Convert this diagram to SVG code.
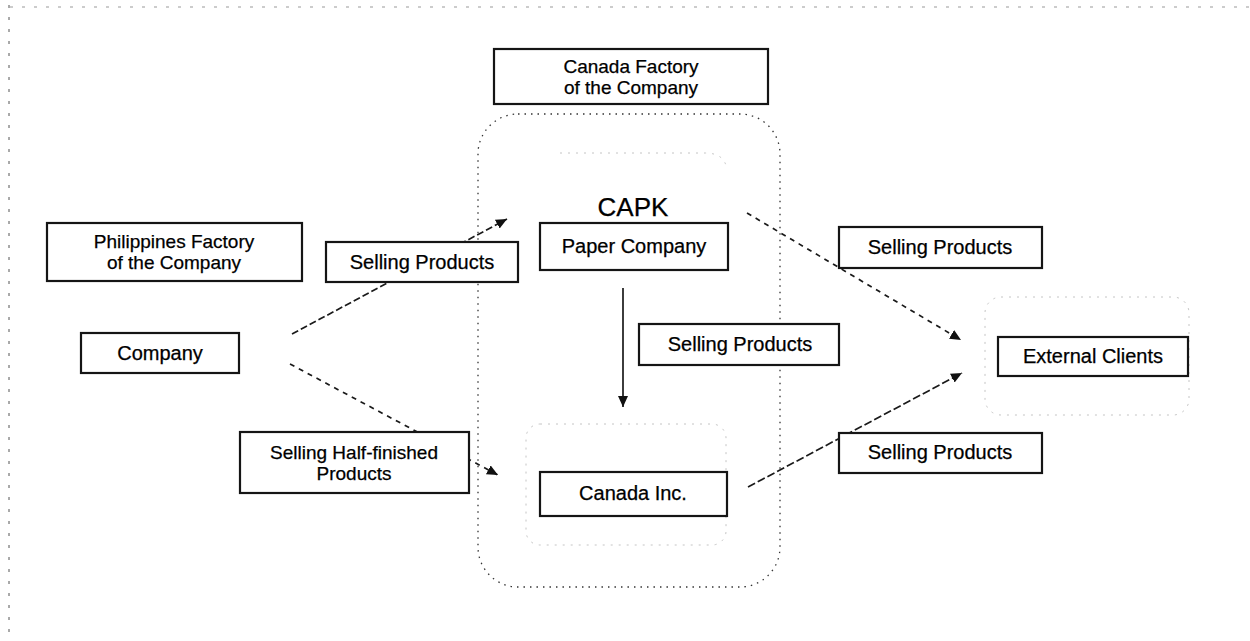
<svg xmlns="http://www.w3.org/2000/svg" width="1250" height="641" viewBox="0 0 1250 641">
<style>
.box{fill:#fff;stroke:#151515;stroke-width:2.2}
.t{font-family:"Liberation Sans",Arial,sans-serif;font-size:20px;fill:#000;text-anchor:middle;stroke:#000;stroke-width:0.25}
.t2{font-size:19px}
.big{font-size:26px}
.c{fill:none;stroke:#1a1a1a;stroke-width:1.7}
.faint{fill:none;stroke:#c4c4c4;stroke-width:1;stroke-dasharray:2 6}
.scan{fill:none;stroke:#999;stroke-width:1;stroke-dasharray:3 9}
.cont{fill:none;stroke:#333;stroke-width:1.3;stroke-dasharray:1.5 5}
</style>
<defs>
<marker id="ah" markerUnits="userSpaceOnUse" markerWidth="14" markerHeight="12" refX="11" refY="5" orient="auto">
<path d="M0,0 L11,5 L0,10 Z" fill="#111"/>
</marker>
</defs>
<rect width="1250" height="641" fill="#fff"/>
<g id="scan-edges">
<line class="scan" x1="10" y1="7" x2="1250" y2="7"/>
<line class="scan" x1="9" y1="5" x2="9" y2="641" style="stroke:#555"/>
</g>
<g id="capk-container">
<rect class="cont" x="478" y="114" width="302" height="473" rx="40"/>
<path class="faint" d="M560,153 L705,153 Q725,153 727,170"/>
<rect class="faint" x="526" y="424" width="200" height="121" rx="14"/>
</g>
<g id="clients-area">
<rect class="faint" x="985" y="297" width="204" height="118" rx="16"/>
</g>
<g id="connectors">
<line class="c" x1="292" y1="334" x2="507" y2="219" stroke-dasharray="7 3" marker-end="url(#ah)"/>
<line class="c" x1="290" y1="364" x2="498" y2="475" stroke-dasharray="5 5" marker-end="url(#ah)"/>
<line class="c" x1="623" y1="288" x2="623" y2="407" marker-end="url(#ah)"/>
<line class="c" x1="747" y1="213" x2="961" y2="340" stroke-dasharray="5 5" marker-end="url(#ah)"/>
<line class="c" x1="748" y1="487" x2="962" y2="373" stroke-dasharray="8 3" marker-end="url(#ah)"/>
</g>
<g id="canada-factory">
<rect class="box" x="494" y="49" width="274" height="55"/>
<text class="t t2" x="631" y="73">Canada Factory</text>
<text class="t t2" x="631" y="94">of the Company</text>
</g>
<g id="capk-label">
<text class="t big" x="633" y="216">CAPK</text>
</g>
<g id="paper-company">
<rect class="box" x="540" y="223" width="188" height="47"/>
<text class="t" x="634" y="253">Paper Company</text>
</g>
<g id="philippines-factory">
<rect class="box" x="47" y="223" width="255" height="58"/>
<text class="t t2" x="174" y="248">Philippines Factory</text>
<text class="t t2" x="174" y="269">of the Company</text>
</g>
<g id="selling-products-left">
<rect class="box" x="326" y="242" width="192" height="40"/>
<text class="t" x="422" y="269">Selling Products</text>
</g>
<g id="company">
<rect class="box" x="81" y="333" width="158" height="40"/>
<text class="t" x="160" y="360">Company</text>
</g>
<g id="selling-products-middle">
<rect class="box" x="639" y="324" width="200" height="41"/>
<text class="t" x="740" y="351">Selling Products</text>
</g>
<g id="selling-half-finished">
<rect class="box" x="240" y="432" width="229" height="61"/>
<text class="t t2" x="354" y="459">Selling Half-finished</text>
<text class="t t2" x="354" y="480">Products</text>
</g>
<g id="canada-inc">
<rect class="box" x="540" y="472" width="187" height="44"/>
<text class="t" x="633" y="500">Canada Inc.</text>
</g>
<g id="selling-products-top-right">
<rect class="box" x="839" y="227" width="203" height="41"/>
<text class="t" x="940" y="254">Selling Products</text>
</g>
<g id="external-clients">
<rect class="box" x="998" y="337" width="190" height="39"/>
<text class="t" x="1093" y="363">External Clients</text>
</g>
<g id="selling-products-bottom-right">
<rect class="box" x="839" y="433" width="203" height="40"/>
<text class="t" x="940" y="459">Selling Products</text>
</g>
</svg>
